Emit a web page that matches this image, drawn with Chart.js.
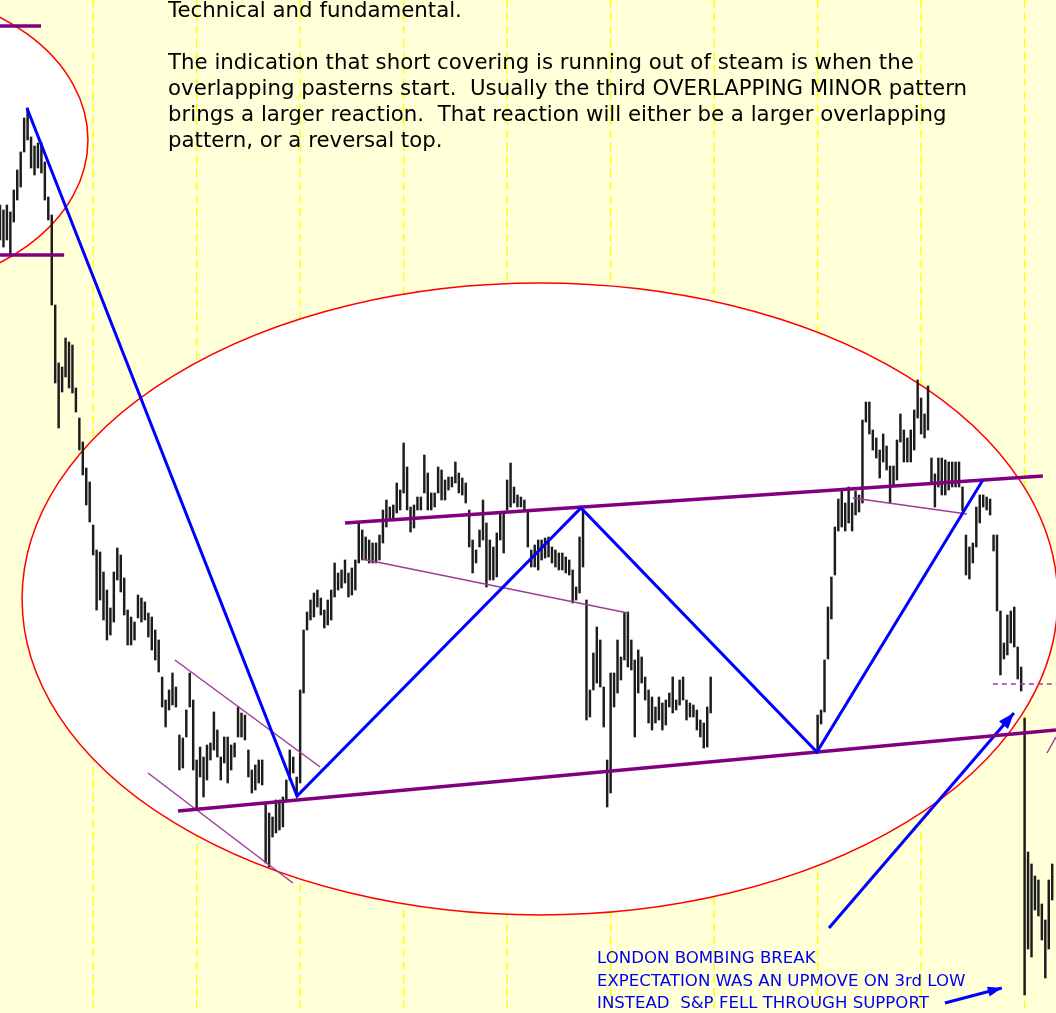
<!DOCTYPE html>
<html>
<head>
<meta charset="utf-8">
<script src="https://cdn.jsdelivr.net/npm/chart.js@4.4.0/dist/chart.umd.min.js"></script>
<style>
html, body { margin: 0; padding: 0; background: #ffffd8; }
#wrap { position: relative; width: 1056px; height: 1013px; overflow: hidden; }
#chart { position: absolute; left: 0; top: 0; }
.note { position: absolute; white-space: pre; }
#comment { left: 168px; top: -3px; font: 21.3px/26px "DejaVu Sans", Verdana, sans-serif; color: #000; }
#london { left: 597px; top: 947px; font: 16.6px/22.5px "DejaVu Sans", Tahoma, sans-serif; color: #0000f0; }
</style>
</head>
<body>
<div id="wrap">
  <canvas id="chart" width="1056" height="1013"></canvas>
  <div class="note" id="comment">Technical and fundamental.

The indication that short covering is running out of steam is when the
overlapping pasterns start.  Usually the third OVERLAPPING MINOR pattern
brings a larger reaction.  That reaction will either be a larger overlapping
pattern, or a reversal top.</div>
  <div class="note" id="london">LONDON BOMBING BREAK
EXPECTATION WAS AN UPMOVE ON 3rd LOW
INSTEAD  S&amp;P FELL THROUGH SUPPORT</div>
</div>
<script>
// Barras de precio (una por periodo), la jornada sin datos va en null
const highs = [
  795, 790, 795, 788, 810, 830, 848, 882, 892, 863,
  854, 857, 857, 838, 803, 785, 695, 637, 633, 662,
  658, 655, 612, 582, 558, 532, 518, 475, 450, 448,
  428, 410, 392, 428, 452, 445, 422, 390, 383, 378,
  405, 402, 398, 387, 383, 370, 360, 323, 300, 310,
  327, 313, 265, 262, 290, 327, 300, 240, 253, 243,
  255, 257, 288, 270, 243, 263, 263, 255, 257, 293,
  287, 285, 250, 230, 235, 240, 240, 197, 187, 183,
  200, 200, 203, 220, 250, 243, 223, 310, 370, 388,
  400, 407, 410, 402, 390, 400, 410, 437, 427, 430,
  440, 427, 432, 440, 477, 470, 463, 460, 457, 457,
  465, 490, 500, 493, 495, 517, 510, 557, 533, 493,
  495, 503, 503, 545, 527, 507, 507, 533, 530, 520,
  523, 523, 538, 527, 522, 517, 490, 460, 450, 470,
  500, 477, 460, 453, 467, 487, 487, 520, 537, 513,
  505, 503, 500, 490, 450, 455, 460, 460, 462, 463,
  453, 450, 447, 447, 443, 440, 430, 413, 463, 490,
  400, 310, 347, 373, 360, 313, 240, 327, 327, 360,
  343, 387, 388, 360, 340, 350, 343, 323, 310, 303,
  293, 303, 297, 300, 307, 323, 300, 320, 323, 300,
  297, 295, 290, 280, 277, 293, 323,
  null, null, null, null, null, null, null, null, null, null,
  null, null, null, null, null, null, null, null, null, null,
  null, null, null, null, null, null, null, null, null, null,
  285, 290, 340, 393, 423, 473, 501, 509, 497, 513,
  497, 509, 505, 580, 598, 598, 570, 562, 550, 566,
  554, 534, 534, 560, 586, 570, 562, 570, 590, 620,
  602, 586, 614, 542, 526, 542, 542, 540, 538, 538,
  538, 538, 513, 465, 453, 457, 493, 505, 505, 503,
  501, 465, 465, 389, 357, 385, 389, 393, 353, 333,
  282, 148, 136, 124, 120, 96, 80, 120, 136
];
const lows = [
  760, 753, 760, 745, 778, 800, 813, 848, 860, 832,
  825, 832, 827, 800, 780, 695, 617, 572, 608, 623,
  612, 607, 588, 550, 525, 495, 478, 445, 390, 400,
  380, 360, 365, 378, 420, 408, 385, 355, 355, 360,
  382, 378, 380, 363, 350, 340, 328, 293, 273, 290,
  295, 293, 230, 232, 263, 293, 230, 190, 223, 203,
  220, 240, 250, 243, 220, 237, 217, 230, 243, 263,
  263, 260, 223, 207, 210, 217, 215, 137, 133, 163,
  167, 170, 173, 200, 220, 227, 205, 217, 307, 370,
  380, 383, 393, 385, 372, 375, 380, 403, 410, 412,
  417, 403, 405, 410, 437, 440, 440, 437, 437, 437,
  440, 457, 473, 480, 480, 487, 490, 507, 490, 468,
  472, 490, 490, 507, 490, 490, 493, 507, 500, 500,
  510, 513, 517, 507, 505, 497, 453, 427, 437, 453,
  460, 413, 420, 420, 423, 460, 447, 490, 493, 497,
  493, 493, 490, 453, 433, 433, 430, 440, 442, 443,
  437, 433, 430, 430, 427, 425, 397, 400, 407, 433,
  280, 283, 310, 317, 313, 273, 193, 207, 293, 307,
  320, 340, 333, 330, 263, 307, 317, 300, 277, 270,
  277, 280, 270, 275, 293, 287, 290, 295, 300, 280,
  283, 283, 270, 263, 252, 253, 287,
  null, null, null, null, null, null, null, null, null, null,
  null, null, null, null, null, null, null, null, null, null,
  null, null, null, null, null, null, null, null, null, null,
  248, 276, 288, 341, 381, 425, 469, 473, 469, 477,
  469, 485, 488, 497, 578, 566, 550, 542, 522, 538,
  530, 497, 514, 520, 558, 538, 538, 538, 550, 582,
  566, 562, 570, 518, 493, 513, 505, 505, 510, 513,
  513, 513, 489, 425, 421, 437, 453, 477, 493, 490,
  485, 449, 389, 325, 341, 345, 357, 353, 321, 309,
  5, 51, 43, 90, 84, 60, 22, 51, 100
];

// Separadores de jornada (índice de barra)
const dayBreaks = [27, 57, 87, 117, 147, 177, 207, 237, 267, 297];

// Líneas de análisis dibujadas sobre el gráfico (x = índice de barra, y = precio)
const zigzagX = [7.8, 86.1, 168.4, 236.8, 284.9];
const zigzagY = [892, 204, 492, 248, 520];
const supportX = [51.6, 306.1];
const supportY = [189, 270];
const resistX = [100, 302.3];
const resistY = [477, 524];
const topLevelX = [0, 11.9];
const topLevelY = [974, 974];
const baseLevelX = [0, 18.6];
const baseLevelY = [745, 745];
const wedgeTopX = [50.7, 92.8];
const wedgeTopY = [340, 233];
const wedgeLowX = [42.9, 84.9];
const wedgeLowY = [227, 117];
const midLineX = [104.9, 182];
const midLineY = [441, 387];
const rightLineX = [247.2, 280.3];
const rightLineY = [502, 486];
const stopLevelX = [287.8, 306.1];
const stopLevelY = [316, 316];
const edgeLineX = [303.5, 306.1];
const edgeLineY = [247, 263];
const arrowBigX = [240.3, 293.9];
const arrowBigY = [72, 287];
const arrowSmallX = [273.9, 290.4];
const arrowSmallY = [-3, 12];

// Elipses de las zonas marcadas
const zones = [
  { cx: 156.5, cy: 401, rx: 150.1, ry: 316 },
  { cx: -34.8, cy: 860, rx: 60.3, ry: 150 }
];

const BG = '#ffffd8';
const PURPLE = '#800080';
const THIN_PURPLE = '#9c3c9c';
const BLUE = '#0000ff';

function seg(xs, ys, color, width, dash) {
  return {
    type: 'line',
    data: xs.map((x, i) => ({ x: x, y: ys[i] })),
    borderColor: color,
    borderWidth: width,
    borderDash: dash || [],
    pointRadius: 0,
    tension: 0,
    fill: false,
    order: 1
  };
}

const bars = [];
highs.forEach((h, i) => {
  if (h !== null) bars.push({ x: i, y: [lows[i], h] });
});

function arrowHead(ctx, x0, y0, x1, y1, len, half) {
  const a = Math.atan2(y1 - y0, x1 - x0);
  ctx.beginPath();
  ctx.moveTo(x1, y1);
  ctx.lineTo(x1 - len * Math.cos(a) + half * Math.sin(a), y1 - len * Math.sin(a) - half * Math.cos(a));
  ctx.lineTo(x1 - len * Math.cos(a) - half * Math.sin(a), y1 - len * Math.sin(a) + half * Math.cos(a));
  ctx.closePath();
  ctx.fill();
}

const decor = {
  id: 'decor',
  beforeDraw(chart) {
    const ctx = chart.ctx;
    ctx.save();
    ctx.fillStyle = BG;
    ctx.fillRect(0, 0, chart.width, chart.height);
    ctx.restore();
  },
  beforeDatasetsDraw(chart) {
    const { ctx, chartArea, scales } = chart;
    const x = scales.x, y = scales.y;
    ctx.save();
    // separadores punteados
    ctx.strokeStyle = '#ffff00';
    ctx.lineWidth = 1.4;
    ctx.setLineDash([8, 5]);
    dayBreaks.forEach(v => {
      const px = x.getPixelForValue(v);
      ctx.beginPath();
      ctx.moveTo(px, chartArea.top);
      ctx.lineTo(px, chartArea.bottom);
      ctx.stroke();
    });
    ctx.setLineDash([]);
    // elipses
    zones.forEach(z => {
      const cx = x.getPixelForValue(z.cx);
      const cy = y.getPixelForValue(z.cy);
      const rx = Math.abs(x.getPixelForValue(z.cx + z.rx) - cx);
      const ry = Math.abs(y.getPixelForValue(z.cy + z.ry) - cy);
      ctx.beginPath();
      ctx.ellipse(cx, cy, rx, ry, 0, 0, Math.PI * 2);
      ctx.fillStyle = '#ffffff';
      ctx.fill();
      ctx.strokeStyle = '#ff0000';
      ctx.lineWidth = 1.5;
      ctx.stroke();
    });
    ctx.restore();
  },
  afterDatasetsDraw(chart) {
    const { ctx, scales } = chart;
    const x = scales.x, y = scales.y;
    ctx.save();
    ctx.fillStyle = BLUE;
    arrowHead(ctx, x.getPixelForValue(arrowBigX[0]), y.getPixelForValue(arrowBigY[0]),
      x.getPixelForValue(arrowBigX[1]), y.getPixelForValue(arrowBigY[1]), 16, 6);
    arrowHead(ctx, x.getPixelForValue(arrowSmallX[0]), y.getPixelForValue(arrowSmallY[0]),
      x.getPixelForValue(arrowSmallX[1]), y.getPixelForValue(arrowSmallY[1]), 14, 5);
    ctx.restore();
  }
};

new Chart(document.getElementById('chart'), {
  type: 'bar',
  data: {
    datasets: [
      seg(zigzagX, zigzagY, BLUE, 3),
      seg(supportX, supportY, PURPLE, 3.5),
      seg(resistX, resistY, PURPLE, 3.5),
      seg(topLevelX, topLevelY, PURPLE, 3.5),
      seg(baseLevelX, baseLevelY, PURPLE, 3.5),
      seg(wedgeTopX, wedgeTopY, THIN_PURPLE, 1.5),
      seg(wedgeLowX, wedgeLowY, THIN_PURPLE, 1.5),
      seg(midLineX, midLineY, THIN_PURPLE, 1.5),
      seg(rightLineX, rightLineY, THIN_PURPLE, 1.5),
      seg(stopLevelX, stopLevelY, THIN_PURPLE, 1.5, [5, 4]),
      seg(edgeLineX, edgeLineY, THIN_PURPLE, 1.5),
      seg(arrowBigX, arrowBigY, BLUE, 3),
      seg(arrowSmallX, arrowSmallY, BLUE, 3),
      {
        type: 'bar',
        data: bars,
        backgroundColor: '#1c1c1c',
        barThickness: 1.8,
        grouped: false,
        order: 2
      }
    ]
  },
  options: {
    responsive: false,
    animation: false,
    events: [],
    layout: { padding: 0 },
    plugins: { legend: { display: false }, tooltip: { enabled: false } },
    scales: {
      x: { type: 'linear', min: 0, max: 306.1, offset: false, display: false },
      y: { type: 'linear', min: -13, max: 1000, display: false }
    }
  },
  plugins: [decor]
});
</script>
</body>
</html>
